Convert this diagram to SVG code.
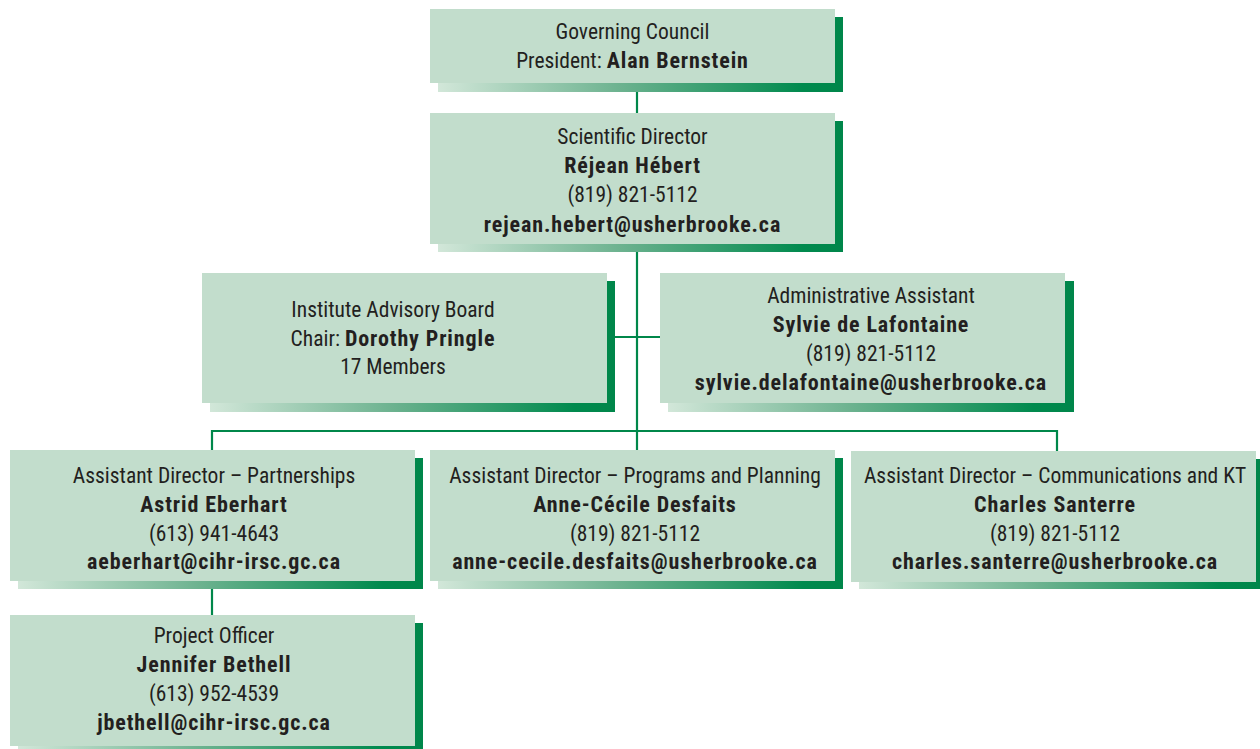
<svg xmlns="http://www.w3.org/2000/svg" width="1260" height="749" viewBox="0 0 1260 749">
<defs>
<linearGradient id="sh" x1="0" y1="0" x2="1" y2="0">
<stop offset="0" stop-color="#d2e7d9"/>
<stop offset="0.45" stop-color="#6cb28f"/>
<stop offset="0.9" stop-color="#008a4e"/>
<stop offset="1" stop-color="#00864a"/>
</linearGradient>
<style>
.box{fill:#c2ddcc}
.sh{fill:url(#sh)}
text{font-family:"Liberation Sans Narrow","Roboto Condensed","Liberation Sans",sans-serif;font-size:21.5px;fill:#231f20;text-anchor:middle}
.b{font-weight:bold;font-size:22px;letter-spacing:0.9px}
.c{stroke:#00874a;stroke-width:2.2;fill:none}
</style>
</defs>
<rect width="1260" height="749" fill="#ffffff"/>
<g id="connectors">
<line class="c" x1="637" y1="90" x2="637" y2="115"/>
<line class="c" x1="637" y1="250" x2="637" y2="431"/>
<line class="c" x1="613" y1="337" x2="662" y2="337"/>
<polyline class="c" points="212,452 212,431 1057,431 1057,452"/>
<line class="c" x1="637" y1="431" x2="637" y2="452"/>
<line class="c" x1="212" y1="587" x2="212" y2="617"/>
</g>
<g id="governing-council">
<rect class="sh" x="438" y="17" width="405" height="75"/>
<rect class="box" x="430" y="9" width="405" height="74"/>
<text x="632.5" y="39">Governing Council</text>
<text x="632.5" y="68">President: <tspan class="b">Alan Bernstein</tspan></text>
</g>
<g id="scientific-director">
<rect class="sh" x="438" y="121" width="405" height="131"/>
<rect class="box" x="430" y="113" width="405" height="131"/>
<text x="632.5" y="144">Scientific Director</text>
<text x="632.5" y="173" class="b">Réjean Hébert</text>
<text x="632.5" y="202">(819) 821-5112</text>
<text x="632.5" y="232" class="b">rejean.hebert@usherbrooke.ca</text>
</g>
<g id="advisory-board">
<rect class="sh" x="210" y="281" width="405" height="131"/>
<rect class="box" x="202" y="273" width="405" height="130"/>
<text x="393" y="317">Institute Advisory Board</text>
<text x="393" y="346">Chair: <tspan class="b">Dorothy Pringle</tspan></text>
<text x="393" y="374">17 Members</text>
</g>
<g id="administrative-assistant">
<rect class="sh" x="668" y="281" width="406" height="131"/>
<rect class="box" x="660" y="273" width="405" height="130"/>
<text x="871" y="303">Administrative Assistant</text>
<text x="871" y="332" class="b">Sylvie de Lafontaine</text>
<text x="871" y="361">(819) 821-5112</text>
<text x="871" y="390" class="b">sylvie.delafontaine@usherbrooke.ca</text>
</g>
<g id="ad-partnerships">
<rect class="sh" x="18" y="458" width="405" height="131"/>
<rect class="box" x="10" y="450" width="405" height="131"/>
<text x="214" y="483">Assistant Director – Partnerships</text>
<text x="214" y="512" class="b">Astrid Eberhart</text>
<text x="214" y="541">(613) 941-4643</text>
<text x="214" y="569" class="b">aeberhart@cihr-irsc.gc.ca</text>
</g>
<g id="ad-programs">
<rect class="sh" x="438" y="458" width="405" height="131"/>
<rect class="box" x="430" y="450" width="405" height="131"/>
<text x="635" y="483">Assistant Director – Programs and Planning</text>
<text x="635" y="512" class="b">Anne-Cécile Desfaits</text>
<text x="635" y="541">(819) 821-5112</text>
<text x="635" y="569" class="b">anne-cecile.desfaits@usherbrooke.ca</text>
</g>
<g id="ad-communications">
<rect class="sh" x="859" y="459" width="401" height="130"/>
<rect class="box" x="851" y="451" width="405" height="131"/>
<text x="1055" y="483">Assistant Director – Communications and KT</text>
<text x="1055" y="512" class="b">Charles Santerre</text>
<text x="1055" y="541">(819) 821-5112</text>
<text x="1055" y="569" class="b">charles.santerre@usherbrooke.ca</text>
</g>
<g id="project-officer">
<rect class="sh" x="18" y="623" width="405" height="131"/>
<rect class="box" x="10" y="615" width="405" height="131"/>
<text x="214" y="643">Project Officer</text>
<text x="214" y="672" class="b">Jennifer Bethell</text>
<text x="214" y="701">(613) 952-4539</text>
<text x="214" y="730" class="b">jbethell@cihr-irsc.gc.ca</text>
</g>
</svg>
